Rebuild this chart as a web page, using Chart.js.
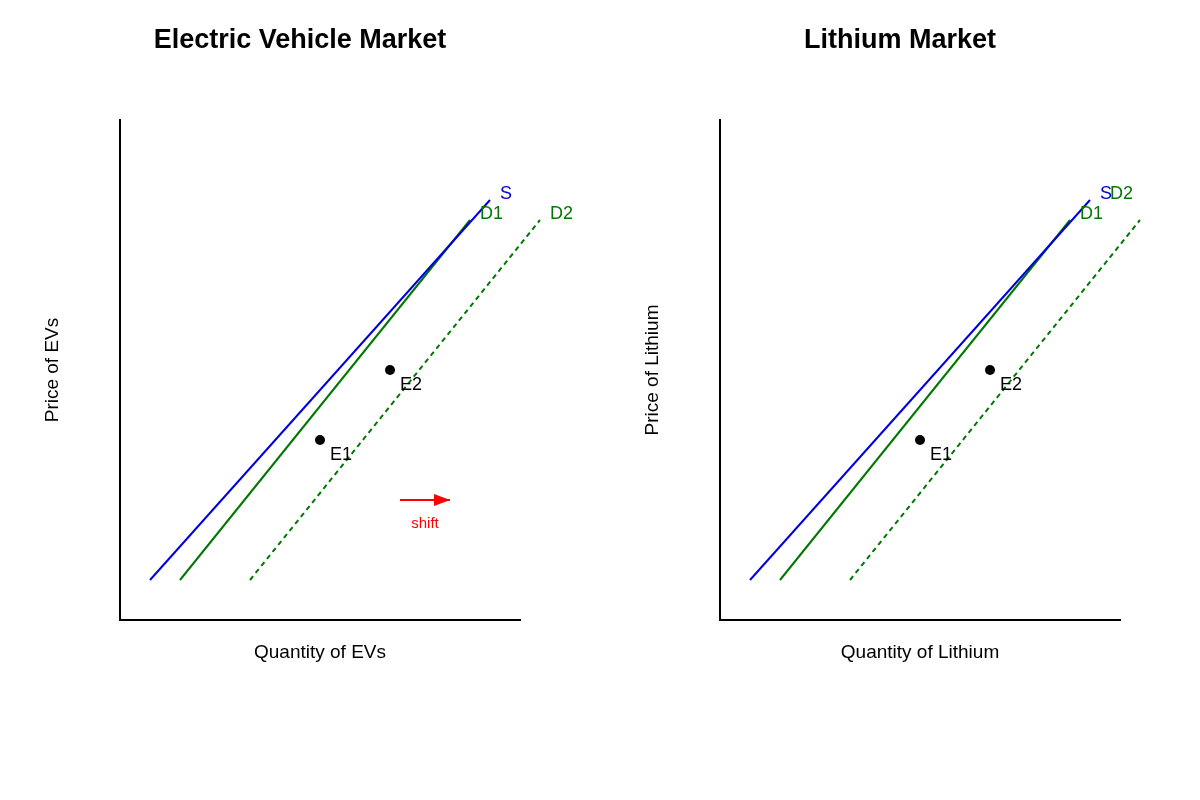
<!DOCTYPE html>
<html><head><meta charset="utf-8">
<script src="https://cdn.jsdelivr.net/npm/chart.js@4"></script>
<style>body{margin:0;background:#fff;width:1200px;height:800px;position:relative;overflow:hidden}
.p{position:absolute;top:0;width:600px;height:800px}</style></head>
<body><div class="p" style="left:0"><canvas id="c1"></canvas></div><div class="p" style="left:600px"><canvas id="c2"></canvas></div>
<script>
const titles = ["Electric Vehicle Market", "Lithium Market"];
const yTitles = ["Price of EVs", "Price of Lithium"];
const xTitles = ["Quantity of EVs", "Quantity of Lithium"];
const supplyS = [{x:30,y:40},{x:370,y:420}];
const demandD1 = [{x:60,y:40},{x:350,y:400}];
const demandD2 = [{x:130,y:40},{x:420,y:400}];
const equilibria = [{x:200,y:180},{x:270,y:250}];
const eqLabels = ["E1","E2"];
const shiftArrow = [{x:280,y:120},{x:330,y:120}];
const lineLabels = [
  [{t:"S",x:380,y:426,c:"#0000cc"},{t:"D1",x:360,y:406,c:"#007700"},{t:"D2",x:430,y:406,c:"#007700"}],
  [{t:"S",x:380,y:426,c:"#0000cc"},{t:"D2",x:390,y:426,c:"#007700"},{t:"D1",x:360,y:406,c:"#007700"}]
];
function make(id, i){
  const ds = [
    {data:supplyS, borderColor:"#0000dd", borderWidth:2, pointRadius:0, clip:false},
    {data:demandD1, borderColor:"#007700", borderWidth:2, pointRadius:0, clip:false},
    {data:demandD2, borderColor:"#007700", borderWidth:2, borderDash:[5,4], pointRadius:0, clip:false},
    {data:equilibria, showLine:false, pointRadius:5, pointBackgroundColor:"#000", pointBorderWidth:0, clip:false}
  ];
  if(i===0) ds.push({data:shiftArrow, borderColor:"red", borderWidth:2, pointRadius:0, clip:false});
  new Chart(document.getElementById(id), {
    type:"line",
    data:{datasets:ds},
    options:{responsive:false, animation:false, devicePixelRatio:1,
      layout:{padding:{left:120,right:80,top:120,bottom:180}},
      plugins:{legend:{display:false},tooltip:{enabled:false}},
      scales:{
        x:{type:"linear",min:0,max:400,ticks:{display:false},grid:{display:false,drawTicks:false},border:{display:true,color:"#000",width:2}},
        y:{type:"linear",min:0,max:500,ticks:{display:false},grid:{display:false,drawTicks:false},border:{display:true,color:"#000",width:2}}
      }},
    plugins:[{id:"txt",afterDraw(ch){
      const c=ch.ctx, xs=ch.scales.x, ys=ch.scales.y, a=ch.chartArea;
      c.save();
      c.fillStyle="#000"; c.textAlign="center"; c.textBaseline="middle";
      c.font="bold 27px 'Liberation Sans', Arial";
      c.fillText(titles[i], 300, 41);
      c.font="19px 'Liberation Sans', Arial";
      c.fillText(xTitles[i], (a.left+a.right)/2, 653);
      c.save(); c.translate(53,(a.top+a.bottom)/2); c.rotate(-Math.PI/2); c.fillText(yTitles[i],0,0); c.restore();
      c.font="18px 'Liberation Sans', Arial"; c.textAlign="left";
      equilibria.forEach((p,k)=>{c.fillText(eqLabels[k], xs.getPixelForValue(p.x)+10, ys.getPixelForValue(p.y)+15);});
      lineLabels[i].forEach(l=>{c.fillStyle=l.c; c.fillText(l.t, xs.getPixelForValue(l.x), ys.getPixelForValue(l.y));});
      if(i===0){
        const ex=xs.getPixelForValue(shiftArrow[1].x), ey=ys.getPixelForValue(shiftArrow[1].y);
        c.fillStyle="red"; c.beginPath(); c.moveTo(ex,ey); c.lineTo(ex-16,ey-6); c.lineTo(ex-16,ey+6); c.closePath(); c.fill();
        c.font="15px 'Liberation Sans', Arial"; c.textAlign="center";
        c.fillText("shift",(xs.getPixelForValue(shiftArrow[0].x)+ex)/2, ey+24);
      }
      c.restore();
    }}]
  });
}
document.getElementById("c1").width=600;document.getElementById("c1").height=800;
document.getElementById("c2").width=600;document.getElementById("c2").height=800;
make("c1",0); make("c2",1);
</script></body></html>
